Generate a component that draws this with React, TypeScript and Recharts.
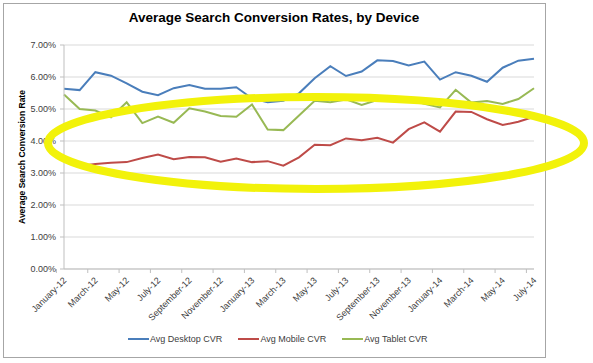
import { CartesianGrid, Line, LineChart, XAxis, YAxis } from "recharts";

const months = [
  "January-12", "February-12", "March-12", "April-12", "May-12", "June-12",
  "July-12", "August-12", "September-12", "October-12", "November-12", "December-12",
  "January-13", "February-13", "March-13", "April-13", "May-13", "June-13",
  "July-13", "August-13", "September-13", "October-13", "November-13", "December-13",
  "January-14", "February-14", "March-14", "April-14", "May-14", "June-14", "July-14",
];

const desktopCvr = [
  5.63, 5.59, 6.15, 6.04, 5.8, 5.54, 5.43, 5.65, 5.75, 5.63, 5.63, 5.68,
  5.33, 5.21, 5.26, 5.49, 5.96, 6.34, 6.03, 6.17, 6.52, 6.5, 6.36, 6.48,
  5.92, 6.15, 6.04, 5.85, 6.29, 6.51, 6.57,
];

const mobileCvr = [
  3.37, 3.22, 3.28, 3.32, 3.34, 3.47, 3.58, 3.43, 3.5, 3.49, 3.35, 3.45,
  3.34, 3.37, 3.23, 3.49, 3.88, 3.87, 4.08, 4.02, 4.1, 3.95, 4.37, 4.58,
  4.29, 4.92, 4.91, 4.68, 4.5, 4.6, 4.76,
];

const tabletCvr = [
  5.45, 5.0, 4.95, 4.74, 5.21, 4.56, 4.76, 4.57, 5.02, 4.92, 4.78, 4.76,
  5.14, 4.36, 4.34, 4.8, 5.26, 5.21, 5.3, 5.13, 5.28, 5.3, 5.3, 5.16,
  5.05, 5.6, 5.2, 5.25, 5.16, 5.31, 5.65,
];

const yTicks = [0, 1, 2, 3, 4, 5, 6, 7];

const series = [
  { key: "desktop", name: "Avg Desktop CVR", color: "#4a7ebb" },
  { key: "mobile", name: "Avg Mobile CVR", color: "#be4b48" },
  { key: "tablet", name: "Avg Tablet CVR", color: "#98b954" },
];

const rows = months.map((month, i) => ({
  month,
  desktop: desktopCvr[i],
  mobile: mobileCvr[i],
  tablet: tabletCvr[i],
}));

const FONT = "'Liberation Sans', Arial, sans-serif";
const W = 593;
const H = 363;
const PLOT_LEFT = 64;
const PLOT_RIGHT = 534;
const STEP = (PLOT_RIGHT - PLOT_LEFT) / months.length;

function MonthTick(props: any) {
  const { x, y, payload } = props;
  const bx = x - STEP / 2;
  const ax = x + 3;
  const ay = y + 12;
  return (
    <g>
      <line x1={bx} y1={y} x2={bx} y2={y + 4} stroke="#bfbfbf" />
      <text
        x={ax}
        y={ay}
        transform={`rotate(-45 ${ax} ${ay})`}
        textAnchor="end"
        fontSize={9}
        fill="#404040"
        fontFamily={FONT}
      >
        {payload.value}
      </text>
    </g>
  );
}

export default function App() {
  return (
    <div style={{ position: "absolute", left: 0, top: 0, width: W, height: H, background: "#fff" }}>
      <div
        style={{
          position: "absolute",
          left: 3,
          top: 3,
          width: 541,
          height: 353,
          border: "1px solid #a6a6a6",
        }}
      />
      <div
        style={{
          position: "absolute",
          left: 0,
          width: 548,
          top: 10,
          textAlign: "center",
          fontFamily: FONT,
          fontWeight: "bold",
          fontSize: 13.5,
          color: "#000",
        }}
      >
        Average Search Conversion Rates, by Device
      </div>

      <div style={{ position: "absolute", left: 0, top: 0 }}>
        <LineChart width={W} height={H} data={rows} margin={{ top: 45, right: W - PLOT_RIGHT, bottom: 0, left: 0 }}>
          <CartesianGrid vertical={false} stroke="#d9d9d9" />
          <XAxis
            dataKey="month"
            interval={1}
            height={94}
            tickSize={0}
            tickMargin={0}
            tickLine={false}
            axisLine={{ stroke: "#bfbfbf" }}
            tick={<MonthTick />}
          />
          <YAxis
            width={PLOT_LEFT}
            domain={[0, 7]}
            ticks={yTicks}
            tickFormatter={(v: number) => `${v.toFixed(2)}%`}
            tickSize={4}
            tickMargin={4}
            tick={{ fontSize: 9, fill: "#404040", fontFamily: FONT }}
            axisLine={{ stroke: "#bfbfbf" }}
            tickLine={{ stroke: "#bfbfbf" }}
          />
          {series.map((s) => (
            <Line
              key={s.key}
              type="linear"
              dataKey={s.key}
              name={s.name}
              stroke={s.color}
              strokeWidth={2}
              dot={false}
              isAnimationActive={false}
            />
          ))}
        </LineChart>
      </div>

      <div
        style={{
          position: "absolute",
          left: 22,
          top: 157,
          transform: "translate(-50%, -50%) rotate(-90deg)",
          whiteSpace: "nowrap",
          fontFamily: FONT,
          fontWeight: "bold",
          fontSize: 8.5,
          color: "#000",
        }}
      >
        Average Search Conversion Rate
      </div>

      <div
        style={{
          position: "absolute",
          left: 128,
          top: 334,
          display: "flex",
          gap: 16,
          fontFamily: FONT,
          fontSize: 9,
          color: "#404040",
        }}
      >
        {series.map((s) => (
          <div key={s.key} style={{ display: "flex", alignItems: "center" }}>
            <span style={{ display: "inline-block", width: 21, height: 2, background: s.color, marginRight: 1 }} />
            <span>{s.name}</span>
          </div>
        ))}
      </div>

      <svg width={W} height={H} style={{ position: "absolute", left: 0, top: 0, pointerEvents: "none" }}>
        <ellipse cx={316} cy={143} rx={268} ry={46} fill="none" stroke="#f2f20a" strokeWidth={8} />
      </svg>
    </div>
  );
}
